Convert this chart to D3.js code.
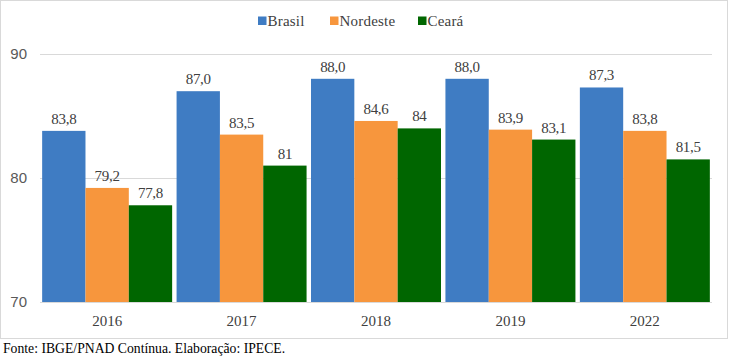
<!DOCTYPE html>
<html><head><meta charset="utf-8">
<script src="https://cdn.jsdelivr.net/npm/d3@7"></script>
<style>body{margin:0;background:#fff;}svg{display:block;font-family:"Liberation Serif",serif;} text{font-family:"Liberation Serif",serif;} .ytick text{font-family:"Liberation Sans",sans-serif;}</style>
</head><body>
<svg id="c" width="731" height="356"></svg>
<script>
const categories = ["2016","2017","2018","2019","2022"];
const seriesNames = ["Brasil","Nordeste","Ceará"];
const brasil = [83.8, 87.0, 88.0, 88.0, 87.3];
const nordeste = [79.2, 83.5, 84.6, 83.9, 83.8];
const ceara = [77.8, 81, 84, 83.1, 81.5];
const labelsBrasil = ["83,8","87,0","88,0","88,0","87,3"];
const labelsNordeste = ["79,2","83,5","84,6","83,9","83,8"];
const labelsCeara = ["77,8","81","84","83,1","81,5"];
const yTicks = [70, 80, 90];
const colors = ["#3F7CC3", "#F7963D", "#006600"];

(function(){
const series = [
  {name: seriesNames[0], values: brasil, labels: labelsBrasil, color: colors[0]},
  {name: seriesNames[1], values: nordeste, labels: labelsNordeste, color: colors[1]},
  {name: seriesNames[2], values: ceara, labels: labelsCeara, color: colors[2]}
];

const svg = d3.select("#c");
svg.append("rect").attr("x",0.5).attr("y",0.5).attr("width",727).attr("height",338)
  .attr("fill","#fff").attr("stroke","#d9d9d9");

const mLeft = 40, mRight = 712, mTop = 54, mBottom = 302;
const x0 = d3.scaleBand().domain(categories).range([mLeft, mRight]).paddingInner(0.033).paddingOuter(0.016);
const x1 = d3.scaleBand().domain(seriesNames).range([0, x0.bandwidth()]);
const y = d3.scaleLinear().domain([70, 90]).range([mBottom, mTop]);

svg.append("g").selectAll("line").data(yTicks).join("line")
  .attr("x1", mLeft).attr("x2", mRight)
  .attr("y1", d => Math.round(y(d)) + 0.5).attr("y2", d => Math.round(y(d)) + 0.5)
  .attr("stroke", "#d9d9d9").attr("stroke-width", 1);

const yAxis = d3.axisLeft(y).tickValues(yTicks).tickSize(0).tickPadding(13);
const ya = svg.append("g").attr("class","ytick").attr("transform", `translate(${mLeft},0)`).call(yAxis);
ya.attr("font-family", null);
ya.select(".domain").remove();
ya.selectAll("text").attr("font-size", 15).attr("fill", "#595959");

const xAxis = d3.axisBottom(x0).tickSize(0).tickPadding(13);
const xa = svg.append("g").attr("transform", `translate(0,${mBottom})`).call(xAxis);
xa.attr("font-family", null);
xa.select(".domain").remove();
xa.selectAll("text").attr("font-size", 15).attr("fill", "#404040");

series.forEach(s => {
  const gg = svg.append("g");
  gg.selectAll("rect").data(categories).join("rect")
    .attr("x", (c) => x0(c) + x1(s.name))
    .attr("width", x1.bandwidth())
    .attr("y", (c, i) => y(s.values[i]))
    .attr("height", (c, i) => y(70) - y(s.values[i]))
    .attr("fill", s.color);
  gg.selectAll("text").data(categories).join("text")
    .attr("x", (c) => x0(c) + x1(s.name) + x1.bandwidth() / 2)
    .attr("y", (c, i) => y(s.values[i]) - 7)
    .attr("text-anchor", "middle")
    .attr("font-size", 15).attr("fill", "#404040")
    .attr("letter-spacing", -0.3)
    .text((c, i) => s.labels[i]);
});

const legX = [258, 330, 418];
const leg = svg.append("g");
series.forEach((s, i) => {
  leg.append("rect").attr("x", legX[i]).attr("y", 16.5).attr("width", 8.5).attr("height", 8.5).attr("fill", s.color);
  leg.append("text").attr("x", legX[i] + 9.5).attr("y", 25.5)
    .attr("font-size", 15).attr("fill", "#404040")
    .attr("letter-spacing", 0.2)
    .text(s.name);
});

svg.append("text").attr("x", 3).attr("y", 353)
  .attr("font-size", 13.7).attr("fill", "#000")
  .text("Fonte: IBGE/PNAD Contínua. Elaboração: IPECE.");
})();
</script>
</body></html>
